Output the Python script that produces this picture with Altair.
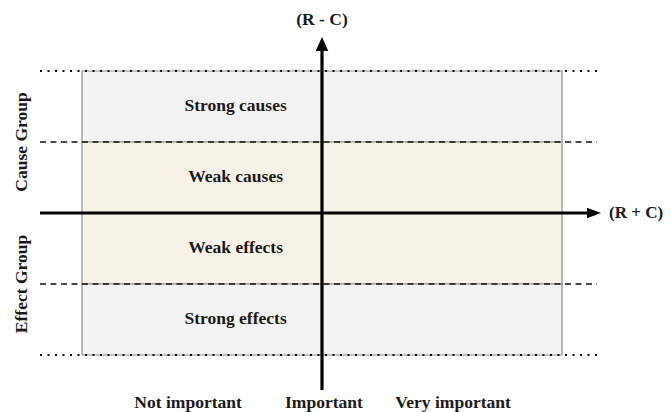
import altair as alt
import pandas as pd

# Conceptual coordinates: x = (R + C) axis, y = (R - C) axis
band_names = ["Strong causes", "Weak causes", "Weak effects", "Strong effects"]
band_top = [2, 1, 0, -1]
band_bottom = [1, 0, -1, -2]
band_fill = ["#f2f2f2", "#f7f2e8", "#f7f2e8", "#f2f2f2"]
box_left, box_right = -1.0, 1.0
label_x = -0.36

guide_y = [2, 1, -1, -2]
guide_style = ["dotted", "dashed", "dashed", "dotted"]
guide_x1, guide_x2 = -1.175, 1.146

group_names = ["Cause Group", "Effect Group"]
group_y = [1, -1]
group_x = -1.252

imp_names = ["Not important", "Important", "Very important"]
imp_x = [-0.558, 0.008, 0.546]
imp_y = -2.676

h_axis_x1, h_axis_tip = -1.175, 1.1625
v_axis_y1, v_axis_tip = -2.493, 2.479
rc_minus_label_y = 2.718
rc_plus_label_x = 1.196

W, H = 655, 404
XDOM = [-1.3083, -1.3083 + W / 240.0]
YDOM = [2.887 - H / 71.0, 2.887]

FONT = "Liberation Serif"
FS = 17.5
TXT = "#1a1a1a"

xs = alt.Scale(domain=XDOM, nice=False, zero=False)
ys = alt.Scale(domain=YDOM, nice=False, zero=False)

bands = pd.DataFrame({
    "name": band_names, "top": band_top, "bottom": band_bottom,
    "fill": band_fill, "x1": box_left, "x2": box_right, "lx": label_x,
})
bands["mid"] = (bands["top"] + bands["bottom"]) / 2

rects = alt.Chart(bands).mark_rect(stroke="#8f8f8f", strokeWidth=1.2).encode(
    x=alt.X("x1:Q", scale=xs, axis=None),
    x2="x2:Q",
    y=alt.Y("top:Q", scale=ys, axis=None),
    y2="bottom:Q",
    fill=alt.Fill("fill:N", scale=None),
)

band_text = alt.Chart(bands).mark_text(
    font=FONT, fontWeight="bold", fontSize=FS, color=TXT
).encode(
    x=alt.X("lx:Q", scale=xs, axis=None),
    y=alt.Y("mid:Q", scale=ys, axis=None),
    text="name:N",
)

guides = pd.DataFrame({"y": guide_y, "style": guide_style,
                       "x1": guide_x1, "x2": guide_x2})
dotted = alt.Chart(guides[guides["style"] == "dotted"]).mark_rule(
    color="#111", strokeWidth=2, strokeDash=[2, 5.5]
).encode(
    x=alt.X("x1:Q", scale=xs, axis=None), x2="x2:Q",
    y=alt.Y("y:Q", scale=ys, axis=None),
)
dashed = alt.Chart(guides[guides["style"] == "dashed"]).mark_rule(
    color="#111", strokeWidth=1.5, strokeDash=[6, 4.5]
).encode(
    x=alt.X("x1:Q", scale=xs, axis=None), x2="x2:Q",
    y=alt.Y("y:Q", scale=ys, axis=None),
)

haxis = alt.Chart(pd.DataFrame({"x1": [h_axis_x1], "x2": [h_axis_tip - 0.03], "y": [0]})).mark_rule(
    color="#000", strokeWidth=3
).encode(
    x=alt.X("x1:Q", scale=xs, axis=None), x2="x2:Q",
    y=alt.Y("y:Q", scale=ys, axis=None),
)
vaxis = alt.Chart(pd.DataFrame({"y1": [v_axis_y1], "y2": [v_axis_tip - 0.1], "x": [0]})).mark_rule(
    color="#000", strokeWidth=3.2
).encode(
    y=alt.Y("y1:Q", scale=ys, axis=None), y2="y2:Q",
    x=alt.X("x:Q", scale=xs, axis=None),
)

arrow_up = alt.Chart(pd.DataFrame({"x": [0], "y": [v_axis_tip - 7.0 / 71]})).mark_point(
    shape="M0,-1L0.9,1L-0.9,1Z", filled=True, color="#000", opacity=1, size=196
).encode(x=alt.X("x:Q", scale=xs, axis=None), y=alt.Y("y:Q", scale=ys, axis=None))
arrow_right = alt.Chart(pd.DataFrame({"x": [h_axis_tip - 7.0 / 240], "y": [0]})).mark_point(
    shape="M1,0L-1,-0.75L-1,0.75Z", filled=True, color="#000", opacity=1, size=196
).encode(x=alt.X("x:Q", scale=xs, axis=None), y=alt.Y("y:Q", scale=ys, axis=None))

axis_labels = pd.DataFrame({
    "t": ["(R - C)", "(R + C)"],
    "x": [0, rc_plus_label_x],
    "y": [rc_minus_label_y, 0],
})
lab_minus = alt.Chart(axis_labels.iloc[[0]]).mark_text(
    font=FONT, fontWeight="bold", fontSize=FS, color=TXT, align="center"
).encode(x=alt.X("x:Q", scale=xs, axis=None), y=alt.Y("y:Q", scale=ys, axis=None), text="t:N")
lab_plus = alt.Chart(axis_labels.iloc[[1]]).mark_text(
    font=FONT, fontWeight="bold", fontSize=17, color=TXT, align="left"
).encode(x=alt.X("x:Q", scale=xs, axis=None), y=alt.Y("y:Q", scale=ys, axis=None), text="t:N")

groups = pd.DataFrame({"t": group_names, "y": group_y, "x": group_x})
group_text = alt.Chart(groups).mark_text(
    font=FONT, fontWeight="bold", fontSize=FS, color=TXT, angle=270
).encode(x=alt.X("x:Q", scale=xs, axis=None), y=alt.Y("y:Q", scale=ys, axis=None), text="t:N")

imp = pd.DataFrame({"t": imp_names, "x": imp_x, "y": imp_y})
imp_text = alt.Chart(imp).mark_text(
    font=FONT, fontWeight="bold", fontSize=FS, color=TXT
).encode(x=alt.X("x:Q", scale=xs, axis=None), y=alt.Y("y:Q", scale=ys, axis=None), text="t:N")

chart = alt.layer(
    rects, dashed, dotted, band_text, haxis, vaxis, arrow_up, arrow_right,
    lab_minus, lab_plus, group_text, imp_text
).properties(
    width=W, height=H, padding=0, autosize=alt.AutoSizeParams(type="none"),
    background="white",
).configure_view(stroke=None)

chart.save("out.html", embed_options={"renderer": "svg", "actions": False})
